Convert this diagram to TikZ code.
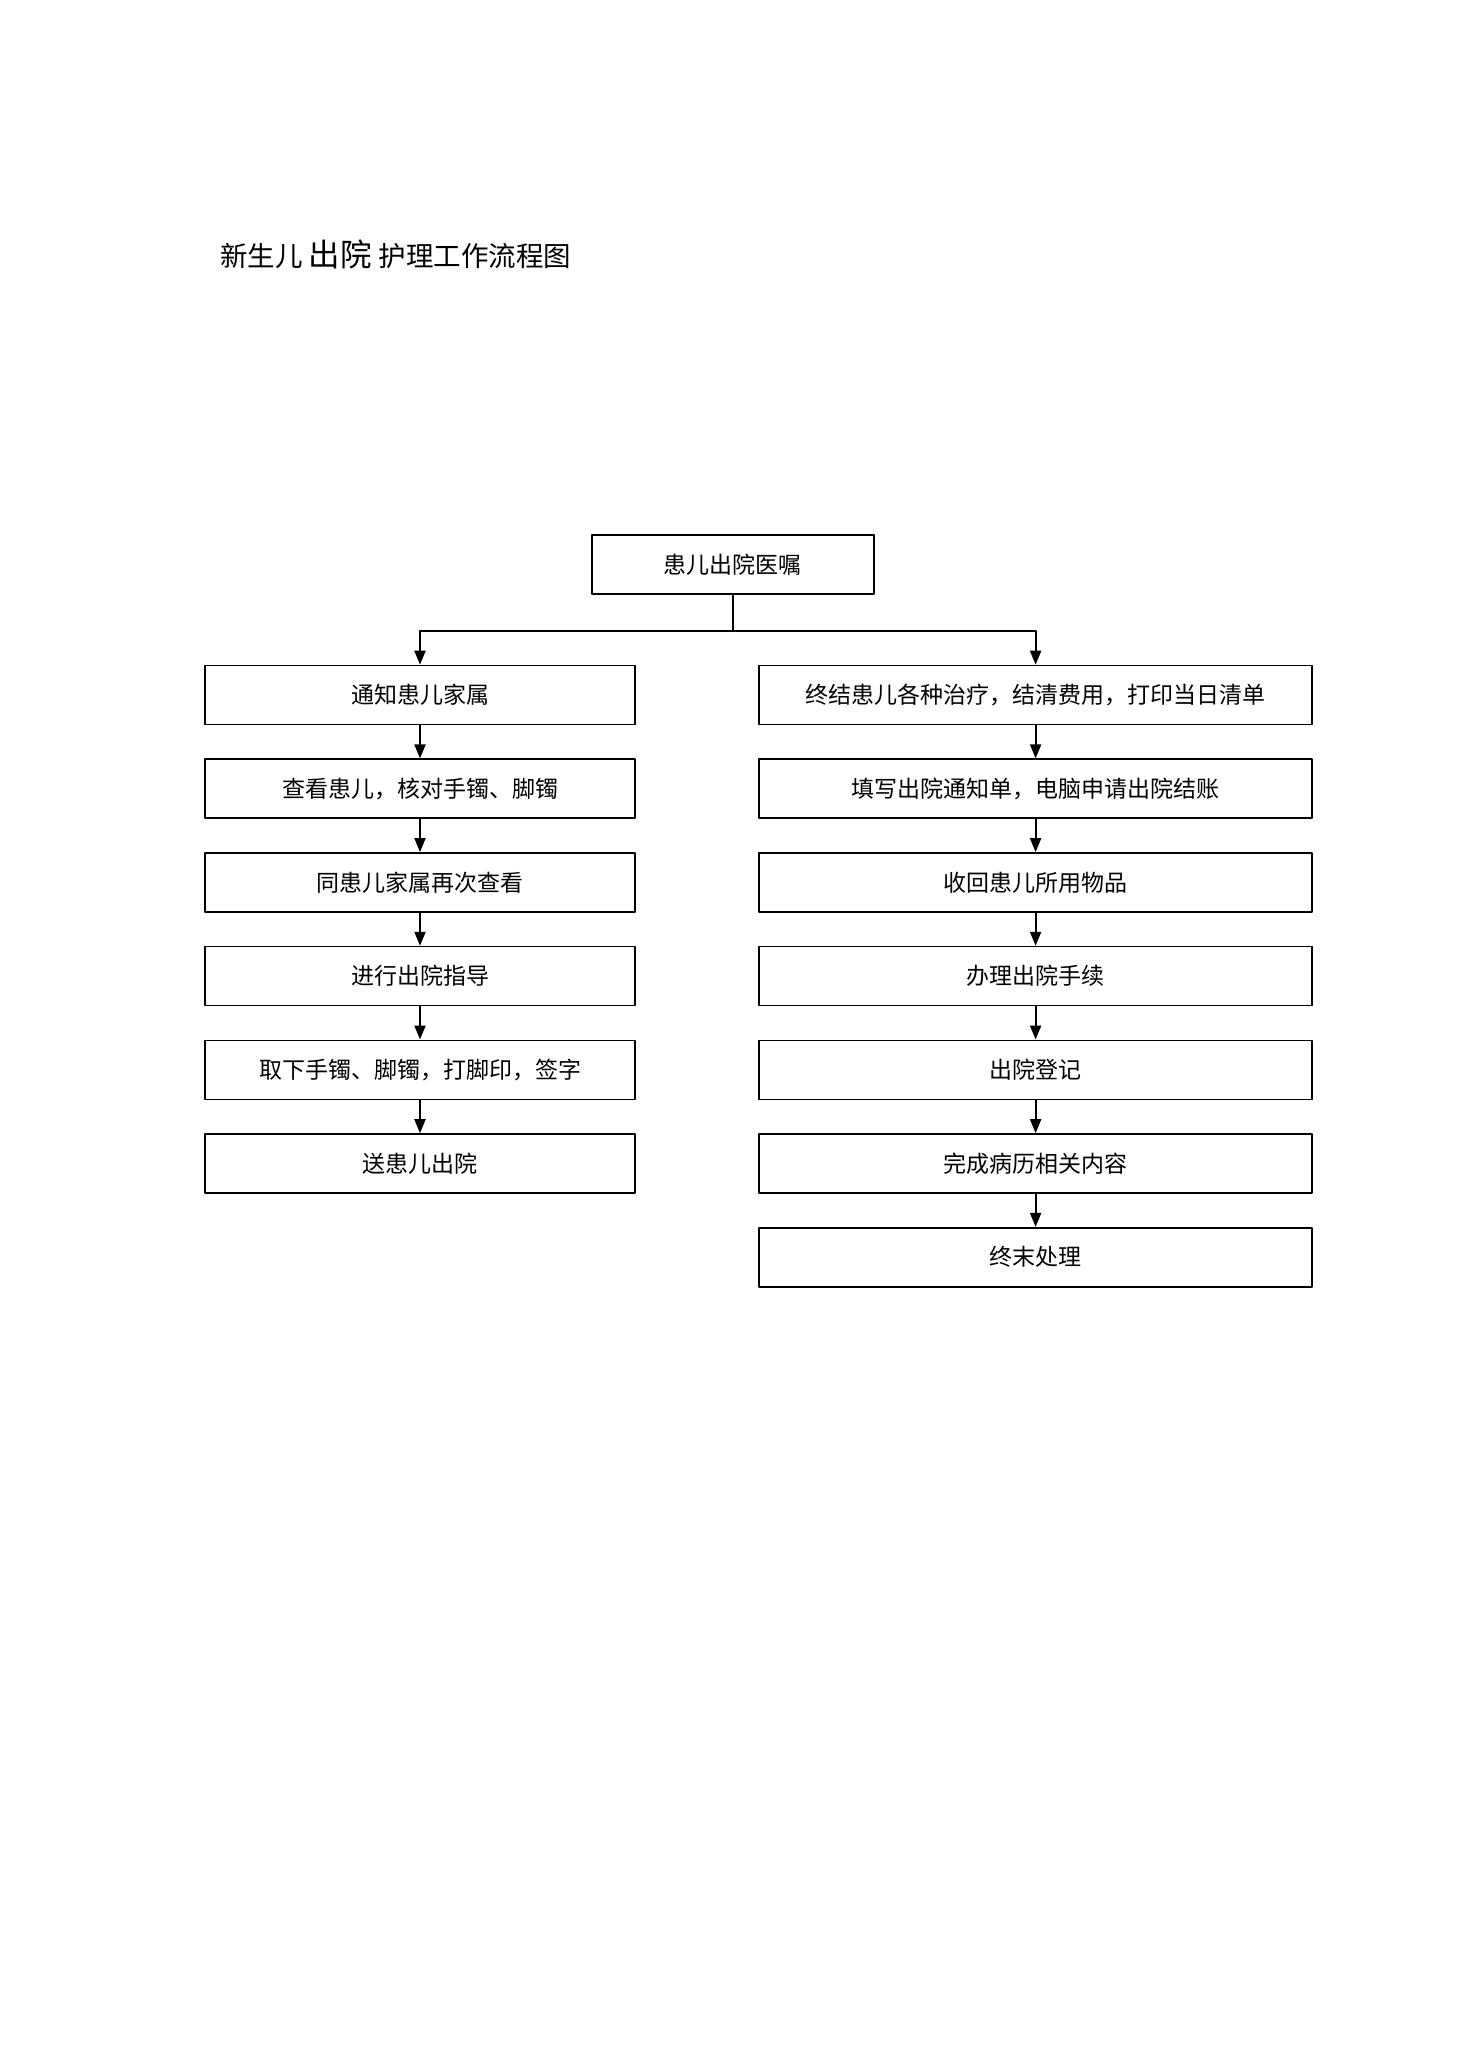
\documentclass[tikz,border=0pt]{standalone}
\usepackage{fontspec}
\newfontfamily\cjk{Noto Sans CJK SC}
\usetikzlibrary{arrows.meta}
\begin{document}
\begin{tikzpicture}[x=1pt, y=-1pt, font=\cjk\fontsize{23}{27}\selectfont, line join=round, >={Triangle[length=14pt,width=11pt]},
		box/.style={draw, line width=1.6pt, minimum height=59pt, inner sep=0pt},
		lbox/.style={box, minimum width=430pt},
		rbox/.style={box, minimum width=553pt},
		link/.style={->, line width=2pt}]
		\def\xl{420} \def\xr{1035.6}
		\def\ytop{695} \def\dy{93.7}
		\useasboundingbox (0,0) rectangle (1461,2068);
		\node[anchor=west, inner sep=0pt] (title) at (220,254) {{\fontsize{27.5}{32}\selectfont 新生儿 }{\fontsize{31.5}{36}\selectfont 出院 }{\fontsize{27.5}{32}\selectfont 护理工作流程图}};
		\node[box, minimum width=282pt] (top) at (732.7,564.5) {患儿出院医嘱};
		% left column
		\foreach \t [count=\i] in {通知患儿家属, 查看患儿，核对手镯、脚镯, 同患儿家属再次查看, 进行出院指导, 取下手镯、脚镯，打脚印，签字, 送患儿出院}
			\node[lbox] (L\i) at (\xl,{\ytop+(\i-1)*\dy}) {\t};
		% right column
		\foreach \t [count=\i] in {终结患儿各种治疗，结清费用，打印当日清单, 填写出院通知单，电脑申请出院结账, 收回患儿所用物品, 办理出院手续, 出院登记, 完成病历相关内容, 终末处理}
			\node[rbox] (R\i) at (\xr,{\ytop+(\i-1)*\dy}) {\t};
		\coordinate (fork) at (732.7,631);
		\draw[line width=1.6pt] (top) -- (fork);
		\draw[link] (fork) -| (L1);
		\draw[link] (fork) -| (R1);
		\foreach \i/\j in {1/2,2/3,3/4,4/5,5/6} \draw[link] (L\i) -- (L\j);
		\foreach \i/\j in {1/2,2/3,3/4,4/5,5/6,6/7} \draw[link] (R\i) -- (R\j);
	\end{tikzpicture}
\end{document}
